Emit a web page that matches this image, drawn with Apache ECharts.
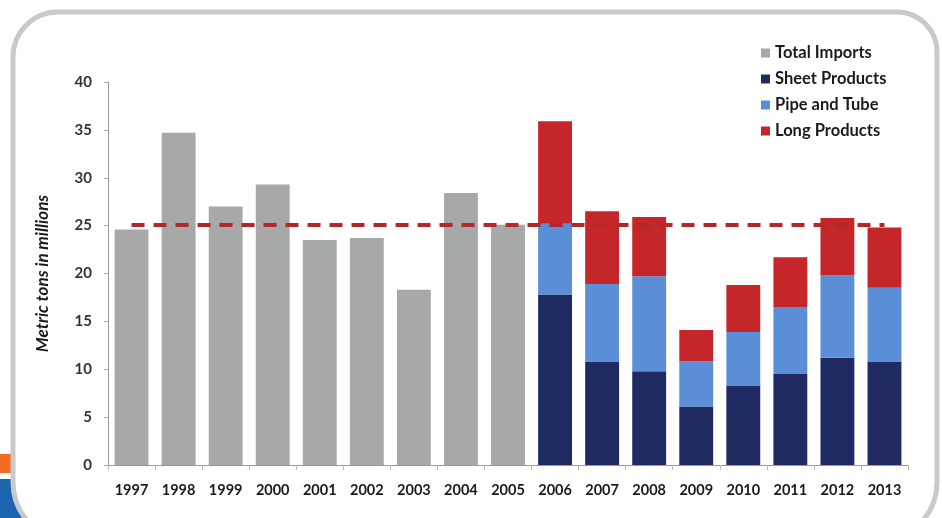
<!DOCTYPE html>
<html>
<head>
<meta charset="utf-8">
<script src="https://cdn.jsdelivr.net/npm/echarts@6/dist/echarts.min.js"></script>
<style>
  html, body { margin: 0; padding: 0; background: #fff; }
  #chart { width: 942px; height: 518px; }
</style>
</head>
<body>
<div id="chart"></div>
<script>
const years = ['1997', '1998', '1999', '2000', '2001', '2002', '2003', '2004', '2005',
  '2006', '2007', '2008', '2009', '2010', '2011', '2012', '2013']
// million metric tons
const totalImports = [24.6, 34.7, 27.0, 29.3, 23.5, 23.7, 18.3, 28.4, 25.1,
  null, null, null, null, null, null, null, null]
const sheetProducts = [null, null, null, null, null, null, null, null, null,
  17.8, 10.8, 9.8, 6.1, 8.3, 9.5, 11.2, 10.8]
const pipeAndTube = [null, null, null, null, null, null, null, null, null,
  7.4, 8.1, 9.9, 4.7, 5.6, 7.0, 8.6, 7.7]
const longProducts = [null, null, null, null, null, null, null, null, null,
  10.7, 7.6, 6.2, 3.3, 4.9, 5.2, 6.0, 6.3]
const averageLine = 25.1
const yTicks = [0, 40, 5]

const chart = echarts.init(document.getElementById('chart'), null, { renderer: 'canvas' })

const font = 'Lato, "Open Sans", sans-serif'
const barW = '72%'

const option = {
  animation: false,
  backgroundColor: '#fff',
  graphic: [
    // blue + orange decorations peeking out from behind the frame
    { type: 'rect', z: -10, shape: { x: 0, y: 479, width: 100, height: 40 }, style: { fill: '#1c63b0' } },
    { type: 'rect', z: -10, shape: { x: 0, y: 454, width: 16, height: 19 }, style: { fill: '#f26b21' } },
    {
      type: 'rect', z: -5,
      shape: { x: 13, y: 12, width: 924, height: 530, r: [45, 40, 60, 60] },
      style: { fill: '#fff', stroke: '#c9c9c9', lineWidth: 5 }
    }
  ],
  textStyle: { fontFamily: font },
  legend: {
    orient: 'vertical',
    left: 756,
    top: 39,
    itemWidth: 9,
    itemHeight: 9,
    itemGap: 8,
    icon: 'rect',
    textStyle: { fontFamily: font, fontWeight: 'bold', fontSize: 16.5, lineHeight: 18, color: '#1a1a1a' },
    data: ['Total Imports', 'Sheet Products', 'Pipe and Tube', 'Long Products']
  },
  grid: { left: 108, right: 34, top: 82, bottom: 53 },
  xAxis: {
    type: 'category',
    data: years,
    axisLine: { lineStyle: { color: '#999' } },
    axisTick: { show: true, length: 5, lineStyle: { color: '#bbb' } },
    axisLabel: { fontFamily: font, fontWeight: 'bold', fontSize: 14.5, color: '#1a1a1a', margin: 18 }
  },
  yAxis: {
    type: 'value',
    min: yTicks[0],
    max: yTicks[1],
    interval: yTicks[2],
    name: 'Metric tons in millions',
    nameLocation: 'middle',
    nameGap: 57,
    nameTextStyle: { fontFamily: font, fontStyle: 'italic', fontWeight: 'bold', fontSize: 17, color: '#1a1a1a' },
    axisLine: { show: true, lineStyle: { color: '#999' } },
    axisTick: { show: true, length: 4, lineStyle: { color: '#aaa' } },
    axisLabel: { fontFamily: font, fontWeight: 'bold', fontSize: 15, color: '#333', margin: 16 },
    splitLine: { show: false }
  },
  series: [
    {
      name: 'Total Imports',
      type: 'bar',
      stack: 'imports',
      barWidth: barW,
      data: totalImports,
      itemStyle: { color: '#a7a8aa' }
    },
    {
      name: 'Sheet Products',
      type: 'bar',
      stack: 'imports',
      barWidth: barW,
      data: sheetProducts,
      itemStyle: { color: '#1f2a63' },
      markLine: {
        silent: true,
        symbol: 'none',
        label: { show: false },
        lineStyle: { color: '#b3262a', type: [13, 9], width: 4 },
        data: [[
          { coord: [years[0], averageLine] },
          { coord: [years[years.length - 1], averageLine] }
        ]],
        z: 10
      }
    },
    {
      name: 'Pipe and Tube',
      type: 'bar',
      stack: 'imports',
      barWidth: barW,
      data: pipeAndTube,
      itemStyle: { color: '#5a8fd8' }
    },
    {
      name: 'Long Products',
      type: 'bar',
      stack: 'imports',
      barWidth: barW,
      data: longProducts,
      itemStyle: { color: '#c4262a' }
    }
  ]
}

chart.setOption(option)
</script>
</body>
</html>
